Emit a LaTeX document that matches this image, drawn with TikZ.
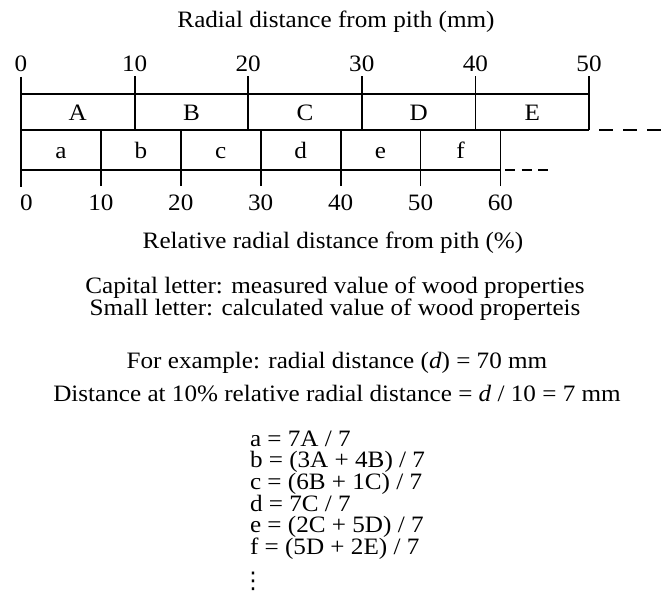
\documentclass[tikz,border=0pt]{standalone}
\usepackage{fontspec}
\setmainfont[FakeStretch=1.07]{Liberation Serif}
\newfontfamily\symfont{DejaVu Sans}
\newcommand{\stackL}[2]{\vtop{\baselineskip=#1\lineskiplimit=-100pt\lineskip=0pt #2}}
\begin{document}
\begin{tikzpicture}[x=1pt,y=-1pt,line width=1.8pt,
  lbl/.style={inner sep=0pt,outer sep=0pt,anchor=base,font=\fontsize{23.5}{28}\selectfont},
  lbw/.style={lbl,anchor=base west},
  tail/.style={dash pattern=on 14pt off 10pt},
  tailb/.style={dash pattern=on 10pt off 6.5pt}]
\useasboundingbox (0,0) rectangle (665,597);
% coordinates of the scales
\foreach \i in {0,...,5} \coordinate (T\i) at ({21+113.6*\i},76);
\foreach \i in {0,...,6} \coordinate (B\i) at ({21+79.9*\i},186);
% frame lines
\draw (21,76.5) -- (21,186.5);
\draw (21,94.3) -- (589,94.3);
\draw (21,130) -- (589,130);
\draw[tail] (599,130) -- (663,130);
\draw (21,170) -- (500.4,170);
\draw[tailb] (505,170) -- (550,170);
\foreach \i in {1,...,5} \draw (T\i) -- (T\i |- 0,130);
\foreach \i in {1,...,6} \draw (B\i) -- (B\i |- 0,130);
% top tick labels
\foreach \i/\t in {0/0,1/10,2/20,3/30,4/40,5/50}
  \node[lbl] (tl\i) at ({21+113.6*\i},71.7) {\t};
% bottom tick labels
\node[lbl] (bl0) at (26.5,210) {0};
\foreach \i/\t in {1/10,2/20,3/30,4/40,5/50,6/60}
  \node[lbl] (bl\i) at ({21+79.9*\i},210) {\t};
% segment letters
\foreach \i/\t in {0/A,1/B,2/C,3/D,4/E}
  \node[lbl] (S\t) at ({21+113.6*\i+56.8},120) {\t};
\foreach \i/\t in {0/a,1/b,2/c,3/d,4/e,5/f}
  \node[lbl] (s\t) at ({21+79.9*\i+39.95},158) {\t};
% texts
\node[lbl] (title) at (336,27.5) {Radial distance from pith (mm)};
\node[lbl] (rel) at (333,248) {Relative radial distance from pith (\%)};
\node[lbl] (legend) at (335,293.5) {\stackL{22pt}{\halign{\hfil#\hfil\cr
  Capital letter: measured value of wood properties\cr
  Small letter: calculated value of wood properteis\cr}}};
\node[lbl] (ex) at (337,368) {For example: radial distance (\textit{d}) = 70 mm};
\node[lbl] (dist) at (337,401.7) {Distance at 10\% relative radial distance = \textit{d} / 10 = 7 mm};
% equations
\node[lbw] (eqs) at (250,446) {\stackL{21.7pt}{%
  \hbox{a = 7A / 7}%
  \hbox{b = (3A + 4B) / 7}%
  \hbox{c = (6B + 1C) / 7}%
  \hbox{d = 7C / 7}%
  \hbox{e = (2C + 5D) / 7}%
  \hbox{f = (5D + 2E) / 7}}};
\node[inner sep=0pt,outer sep=0pt,anchor=center,font=\symfont\fontsize{23}{23}\selectfont] (dots) at (253,581.5) {⋮};
\end{tikzpicture}
\end{document}
